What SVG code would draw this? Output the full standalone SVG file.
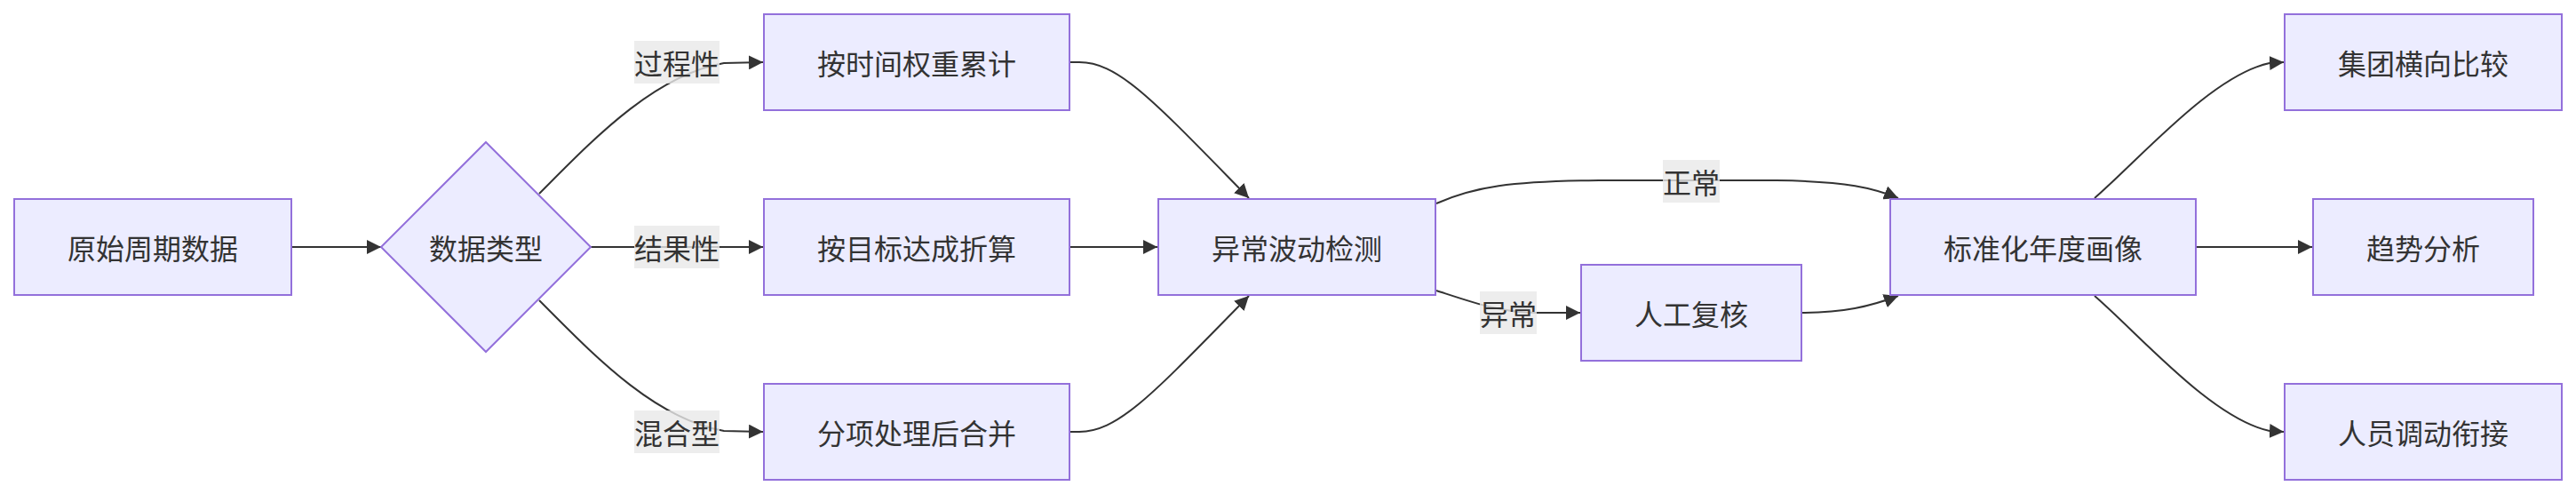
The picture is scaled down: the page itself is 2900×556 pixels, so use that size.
<svg xmlns="http://www.w3.org/2000/svg" width="2900" height="556" viewBox="0 0 2900 556">
<style>
.node rect,.node polygon{fill:#ECECFF;stroke:#9370DB;stroke-width:2}
.node text,.label text{font-family:"Noto Sans CJK SC","Liberation Sans",sans-serif;font-size:32px;fill:#333333;text-anchor:middle;dominant-baseline:central}
.edge{fill:none;stroke:#333333;stroke-width:2;marker-end:url(#arrow)}
.label rect{fill:rgba(232,232,232,0.8)}
</style>
<defs>
<marker id="arrow" viewBox="0 0 10 10" refX="10" refY="5" markerUnits="userSpaceOnUse" markerWidth="16" markerHeight="16" orient="auto"><path d="M0,0 L10,5 L0,10 z" fill="#333333"/></marker>
</defs>
<rect width="2900" height="556" fill="#ffffff"/>
<g id="edges">
<path class="edge" d="M328 278 L429 278"/>
<path class="edge" d="M607 218 C665 160 735 85 815 71 L859 70"/>
<path class="edge" d="M665 278 L859 278"/>
<path class="edge" d="M607 338 C665 396 735 471 815 485 L859 486"/>
<path class="edge" d="M1204 70 L1215 70 C1260 70 1300 115 1406 223"/>
<path class="edge" d="M1204 278 L1303 278"/>
<path class="edge" d="M1204 486 L1215 486 C1260 486 1300 441 1406 333"/>
<path class="edge" d="M1617 229 C1660 210 1700 204 1800 203 L2000 203 C2080 204 2110 212 2137 223"/>
<path class="edge" d="M1617 327 C1660 341 1690 352 1730 352 L1779 352"/>
<path class="edge" d="M2028 352 C2075 352 2105 345 2137 333"/>
<path class="edge" d="M2358 223 C2410 178 2490 85 2555 71 L2571 70"/>
<path class="edge" d="M2472 278 L2603 278"/>
<path class="edge" d="M2358 333 C2410 378 2490 471 2555 485 L2571 486"/>
</g>
<g id="edge-labels">
<g class="label" id="lbl-process"><rect x="714" y="46" width="96" height="48"/><text x="762" y="70">过程性</text></g>
<g class="label" id="lbl-result"><rect x="714" y="254" width="96" height="48"/><text x="762" y="278">结果性</text></g>
<g class="label" id="lbl-mixed"><rect x="714" y="462" width="96" height="48"/><text x="762" y="486">混合型</text></g>
<g class="label" id="lbl-normal"><rect x="1872" y="180" width="64" height="48"/><text x="1904" y="204">正常</text></g>
<g class="label" id="lbl-abnormal"><rect x="1666" y="328" width="64" height="48"/><text x="1698" y="352">异常</text></g>
</g>
<g class="node" id="A"><rect x="16" y="224" width="312" height="108"/><text x="172" y="278">原始周期数据</text></g>
<g class="node" id="B"><polygon points="547,160 665,278 547,396 429,278"/><text x="547" y="278">数据类型</text></g>
<g class="node" id="C"><rect x="860" y="16" width="344" height="108"/><text x="1032" y="70">按时间权重累计</text></g>
<g class="node" id="D"><rect x="860" y="224" width="344" height="108"/><text x="1032" y="278">按目标达成折算</text></g>
<g class="node" id="E"><rect x="860" y="432" width="344" height="108"/><text x="1032" y="486">分项处理后合并</text></g>
<g class="node" id="F"><rect x="1304" y="224" width="312" height="108"/><text x="1460" y="278">异常波动检测</text></g>
<g class="node" id="G"><rect x="1780" y="298" width="248" height="108"/><text x="1904" y="352">人工复核</text></g>
<g class="node" id="H"><rect x="2128" y="224" width="344" height="108"/><text x="2300" y="278">标准化年度画像</text></g>
<g class="node" id="I"><rect x="2572" y="16" width="312" height="108"/><text x="2728" y="70">集团横向比较</text></g>
<g class="node" id="J"><rect x="2604" y="224" width="248" height="108"/><text x="2728" y="278">趋势分析</text></g>
<g class="node" id="K"><rect x="2572" y="432" width="312" height="108"/><text x="2728" y="486">人员调动衔接</text></g>
</svg>
